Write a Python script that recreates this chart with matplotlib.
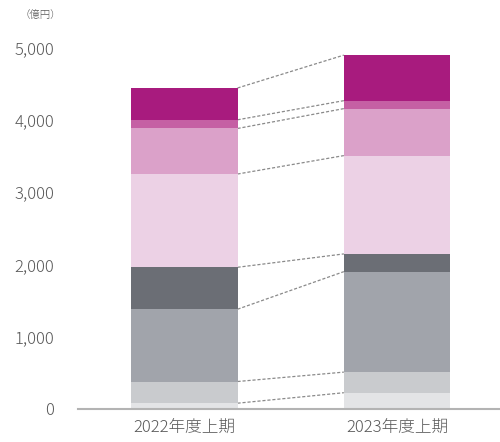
import matplotlib
matplotlib.use("Agg")
from matplotlib import pyplot as plt
import numpy as np

plt.rcParams['font.family'] = ['Noto Sans CJK JP', 'DejaVu Sans']
plt.rcParams['font.weight'] = 'light'

# Données (億円)
periodes = ["2022年度上期", "2023年度上期"]
seg1 = [80, 225]
seg2 = [300, 285]
seg3 = [1000, 1390]
seg4 = [580, 245]
seg5 = [1290, 1360]
seg6 = [630, 650]
seg7 = [120, 110]
seg8 = [440, 630]
graduations = [0, 1000, 2000, 3000, 4000, 5000]

segments = [seg1, seg2, seg3, seg4, seg5, seg6, seg7, seg8]
couleurs = ["#e3e4e6", "#c9cbce", "#a1a4ab", "#6b6e75",
            "#ecd1e5", "#dba1c9", "#c560a4", "#a81b7e"]

fig = plt.figure(figsize=(5, 4.42), dpi=100)
ax = fig.add_axes([0.156, 0.0747, 0.844, 0.8178])

x = np.arange(len(periodes))
largeur = 0.5
bas = np.zeros(len(periodes))
sommets = []
for valeurs, couleur in zip(segments, couleurs):
    ax.bar(x, valeurs, largeur, bottom=bas, color=couleur, zorder=2, clip_on=False)
    bas = bas + np.array(valeurs)
    sommets.append(bas.copy())

# Lignes pointillées entre les deux barres
for s in sommets:
    ax.plot([x[0] + largeur / 2, x[1] - largeur / 2], [s[0], s[1]],
            color="#8a8a8a", lw=0.9, ls=(0, (2.5, 1.5)), zorder=1, clip_on=False)

ax.set_xlim(-0.5, 1.484)
ax.set_ylim(0, 5000)
ax.set_yticks(graduations)
ax.set_yticklabels([f"{g:,}" for g in graduations])
ax.set_xticks(x)
ax.set_xticklabels(periodes)

for cote in ["left", "right", "top"]:
    ax.spines[cote].set_visible(False)
ax.spines["bottom"].set_color("#b3b3b3")
ax.spines["bottom"].set_linewidth(1.5)
ax.tick_params(axis="both", length=0, colors="#595959", labelsize=12)
ax.tick_params(axis="y", pad=17)
ax.tick_params(axis="x", pad=8)

fig.text(0.04, 0.965, "（億円）", fontsize=7.5, color="#595959", va="center")

fig.savefig("out.png", dpi=100)
